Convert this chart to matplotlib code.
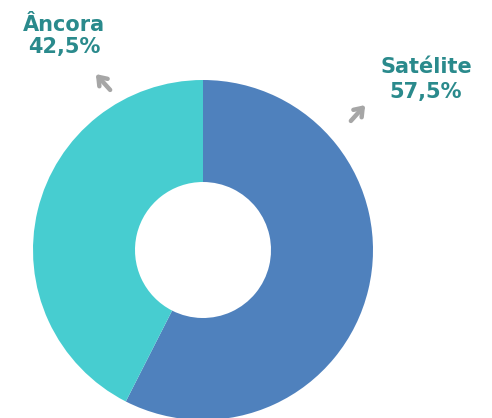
import matplotlib.pyplot as plt

LABELS = ["Satélite", "Âncora"]
SHARES = [57.5, 42.5]
SHARE_TEXT = ["57,5%", "42,5%"]
COLORS = ["#4f81bd", "#47cdd0"]

TEXT_COLOR = "#2a8a8c"
ARROW_COLOR = "#a6a6a6"

# pixel geometry of the reference: centre (203, 250), radius 170
CX, CY, R = 203, 250, 170


def px(x, y):
    return (x - CX) / R, (CY - y) / R


fig = plt.figure(figsize=(4.92, 4.18), dpi=100)
ax = fig.add_axes([0, 0, 1, 1])
ax.pie(
    SHARES,
    colors=COLORS,
    startangle=90,
    counterclock=False,
    radius=1.0,
    wedgeprops={"width": 0.6, "linewidth": 0},
)
ax.set_aspect("auto")
ax.set_xlim(-CX / R, (492 - CX) / R)
ax.set_ylim(-(418 - CY) / R, CY / R)
ax.axis("off")

# label centre x, baseline of name, baseline of share (pixels)
label_pos = {"Satélite": (426, 73, 98), "Âncora": (64, 31, 53)}
arrows = {
    "Satélite": ((349, 123), (367, 103)),
    "Âncora": ((112, 92), (94, 72)),
}

for label, share in zip(LABELS, SHARE_TEXT):
    x, y1, y2 = label_pos[label]
    for txt, yy in ((label, y1), (share, y2)):
        ax.text(*px(x, yy), txt, ha="center", va="baseline",
                fontsize=15, fontweight="bold", color=TEXT_COLOR,
                family=["DejaVu Sans"])
    start, end = arrows[label]
    ax.annotate("", xy=px(*end), xytext=px(*start),
                arrowprops=dict(arrowstyle="->,head_length=0.55,head_width=0.4",
                                color=ARROW_COLOR, lw=3.2))

fig.savefig("out.png", dpi=100)
